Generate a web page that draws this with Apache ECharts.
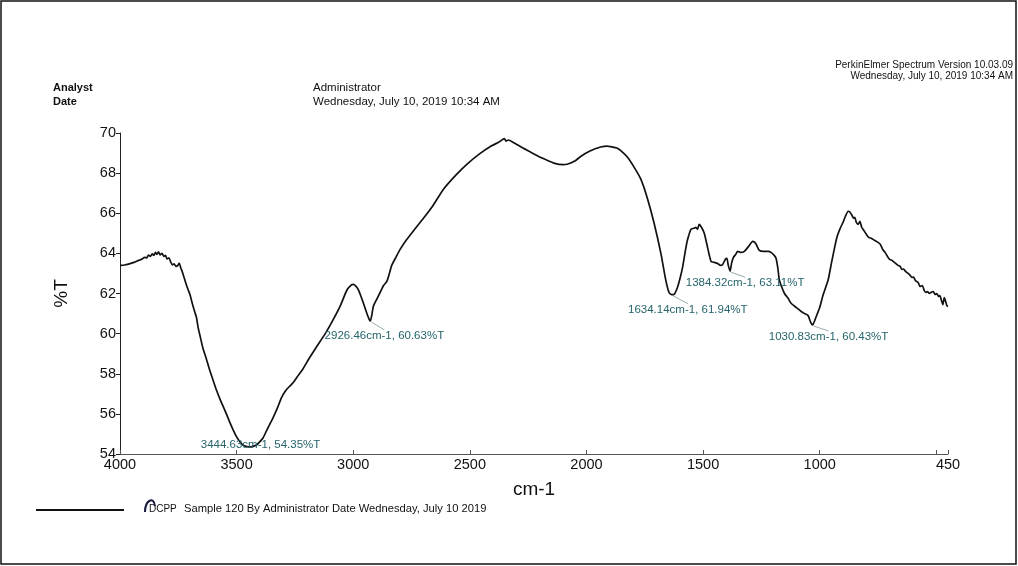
<!DOCTYPE html>
<html>
<head>
<meta charset="utf-8">
<title>DCPP IR spectrum</title>
<script src="https://cdn.jsdelivr.net/npm/echarts@6/dist/echarts.min.js"></script>
<style>
  html, body { margin: 0; padding: 0; background: #fff; }
  #chart { width: 1018px; height: 566px; }
</style>
</head>
<body>
<div id="chart"></div>
<script>
// Wavenumber (cm-1), high to low
const wavenumbers = [
  4000, 3980, 3960, 3940, 3920, 3905, 3895, 3885, 3878, 3870, 3862, 3855, 3848, 3842, 3835, 3828,
  3820, 3812, 3805, 3798, 3790, 3782, 3775, 3768, 3760, 3752, 3746, 3740, 3732, 3720, 3710, 3700,
  3690, 3680, 3672, 3665, 3655, 3645, 3630, 3616, 3600, 3587, 3570, 3555, 3544, 3530, 3515, 3500,
  3485, 3470, 3455, 3444.63, 3430, 3415, 3400, 3387, 3370, 3355, 3344, 3325, 3308, 3290, 3275, 3258,
  3240, 3215, 3190, 3157, 3120, 3086, 3055, 3028, 3010, 3000, 2990, 2979, 2965, 2950, 2940, 2931,
  2926.46, 2920, 2914, 2900, 2885, 2870, 2856, 2845, 2835, 2815, 2799, 2770, 2740, 2699, 2660, 2613,
  2560, 2512, 2460, 2412, 2375, 2352, 2345, 2335, 2312, 2280, 2240, 2190, 2140, 2100, 2083, 2050,
  2025, 1985, 1939, 1910, 1896, 1870, 1853, 1825, 1796, 1767, 1739, 1710, 1681, 1660, 1646, 1634.14,
  1625, 1610, 1598, 1588, 1575, 1567, 1552, 1540, 1531, 1524, 1517, 1507, 1495, 1481, 1466, 1452,
  1438, 1425, 1416, 1405, 1398, 1392, 1384.32, 1378, 1370, 1360, 1352, 1340, 1323, 1305, 1287, 1275,
  1259, 1240, 1220, 1209, 1195, 1187, 1180, 1173, 1162, 1151, 1135, 1122, 1100, 1079, 1065, 1050,
  1040, 1030.83, 1020, 1010, 1000, 985, 964, 950, 936, 925, 914, 900, 890, 878, 870, 862,
  855, 850, 843, 835, 828, 820, 814, 800, 790, 779, 765, 750, 740, 730, 720, 707,
  700, 690, 680, 672, 664, 655, 648, 640, 632, 621, 612, 605, 598, 590, 578, 570,
  560, 552, 545, 538, 530, 520, 513, 505, 498, 490, 485, 478, 472, 466, 460, 455,
  450
];

// Transmittance (%T) at each wavenumber above
const transmittance = [
  63.40, 63.42, 63.48, 63.55, 63.65, 63.72, 63.80, 63.78, 63.92, 63.85, 63.98, 63.90, 64.05, 63.95, 64.08, 63.92,
  64.00, 63.85, 63.90, 63.72, 63.78, 63.55, 63.42, 63.48, 63.35, 63.40, 63.52, 63.30, 63.05, 62.60, 62.25, 61.95,
  61.50, 61.10, 60.80, 60.30, 59.80, 59.30, 58.75, 58.20, 57.65, 57.20, 56.70, 56.30, 56.00, 55.60, 55.20, 54.85,
  54.60, 54.42, 54.37, 54.35, 54.38, 54.45, 54.62, 54.80, 55.20, 55.55, 55.80, 56.30, 56.80, 57.15, 57.35, 57.55,
  57.85, 58.25, 58.75, 59.35, 60.00, 60.70, 61.40, 62.15, 62.40, 62.45, 62.38, 62.20, 61.80, 61.30, 60.95, 60.70,
  60.63, 60.95, 61.35, 61.70, 62.05, 62.40, 62.60, 63.00, 63.40, 63.85, 64.20, 64.70, 65.15, 65.75, 66.35, 67.20,
  67.90, 68.45, 68.95, 69.33, 69.55, 69.72, 69.60, 69.65, 69.52, 69.30, 69.05, 68.75, 68.50, 68.42, 68.44, 68.60,
  68.83, 69.10, 69.30, 69.35, 69.32, 69.25, 69.12, 68.80, 68.30, 67.70, 66.75, 65.50, 64.00, 62.67, 62.05, 61.94,
  61.95, 62.30, 62.80, 63.30, 64.20, 64.67, 65.20, 65.25, 65.30, 65.20, 65.45, 65.30, 65.00, 64.30, 63.60, 63.55,
  63.50, 63.40, 63.45, 63.70, 63.75, 63.40, 63.11, 63.50, 63.80, 63.95, 64.10, 64.05, 64.10, 64.35, 64.60, 64.50,
  64.15, 64.10, 64.10, 64.05, 63.90, 63.75, 63.30, 62.67, 62.30, 62.00, 61.75, 61.50, 61.30, 61.10, 61.00, 60.90,
  60.60, 60.43, 60.70, 61.00, 61.30, 61.95, 62.67, 63.50, 64.30, 64.85, 65.20, 65.55, 65.85, 66.10, 66.05, 65.90,
  65.75, 65.80, 65.55, 65.45, 65.60, 65.30, 65.20, 64.95, 64.80, 64.75, 64.65, 64.55, 64.45, 64.20, 64.05, 63.80,
  63.70, 63.65, 63.55, 63.48, 63.40, 63.35, 63.20, 63.22, 63.10, 63.00, 62.90, 62.80, 62.82, 62.65, 62.55, 62.35,
  62.40, 62.15, 62.05, 62.10, 62.00, 62.08, 62.10, 61.95, 62.00, 61.85, 61.90, 61.65, 61.45, 61.80, 61.60, 61.40,
  61.35
];

// Picked peaks
const peakWavenumbers = [3444.63, 2926.46, 1634.14, 1384.32, 1030.83];
const peakTransmittance = [54.35, 60.63, 61.94, 63.11, 60.43];

// Axis ticks and labels
const xTickValues = [4000, 3500, 3000, 2500, 2000, 1500, 1000, 500, 450];
const xLabelValues = [4000, 3500, 3000, 2500, 2000, 1500, 1000, 450];
const yMin = 54, yMax = 70, yStep = 2;

const FONT = '"Liberation Sans", Arial, sans-serif';

const spectrum = wavenumbers.map((w, i) => [w, transmittance[i]]);
const peaks = peakWavenumbers.map((w, i) => [w, peakTransmittance[i]]);
const peakText = peakWavenumbers.map((w, i) =>
  w.toFixed(2) + 'cm-1, ' + peakTransmittance[i].toFixed(2) + '%T');

// Leader end and label anchor (top-centre) offsets in px from each peak
const leaderEnd = [null, [14, 9], [16, 9], [15, 6], [16, 6]];
const labelAnchor = [[11, -8], [14, 9], [16, 9], [15, 6], [16, 6]];

const chart = echarts.init(document.getElementById('chart'), null, { renderer: 'canvas' });

chart.setOption({
  backgroundColor: '#ffffff',
  animation: false,
  grid: { left: 120, right: 70, top: 133, bottom: 112, containLabel: false },
  xAxis: {
    type: 'value',
    inverse: true,
    min: 450,
    max: 4000,
    name: 'cm-1',
    nameLocation: 'middle',
    nameGap: 26,
    nameTextStyle: { fontFamily: FONT, fontSize: 19, color: '#111' },
    axisLine: { show: true, onZero: false, lineStyle: { color: '#555', width: 1 } },
    axisTick: { show: true, inside: true, length: 4, customValues: xTickValues, lineStyle: { color: '#555' } },
    axisLabel: {
      customValues: xLabelValues,
      formatter: function (v) { return String(v); },
      fontFamily: FONT, fontSize: 14.5, color: '#111', margin: 3
    },
    splitLine: { show: false }
  },
  yAxis: {
    type: 'value',
    min: yMin,
    max: yMax,
    interval: yStep,
    name: '%T',
    nameLocation: 'middle',
    nameGap: 49,
    nameRotate: 90,
    nameTextStyle: { fontFamily: FONT, fontSize: 19, color: '#111' },
    axisLine: { show: true, lineStyle: { color: '#222', width: 1 } },
    axisTick: { show: true, inside: false, length: 4, lineStyle: { color: '#222' } },
    axisLabel: { fontFamily: FONT, fontSize: 14.5, color: '#111', margin: 4 },
    splitLine: { show: false }
  },
  series: [
    {
      type: 'line',
      data: spectrum,
      showSymbol: false,
      smooth: 0.2,
      lineStyle: { color: '#111', width: 1.7 },
      z: 2
    },
    {
      type: 'custom',
      data: peaks,
      encode: { x: 0, y: 1 },
      clip: false,
      z: 3,
      renderItem: function (params, api) {
        const i = params.dataIndex;
        const p = api.coord([api.value(0), api.value(1)]);
        const children = [];
        const le = leaderEnd[i];
        if (le) {
          children.push({
            type: 'line',
            shape: { x1: p[0] + 1, y1: p[1] + 1, x2: p[0] + le[0], y2: p[1] + le[1] },
            style: { stroke: '#8fa3a3', lineWidth: 0.9 }
          });
        }
        const la = labelAnchor[i];
        children.push({
          type: 'text',
          x: p[0] + la[0],
          y: p[1] + la[1],
          style: {
            text: peakText[i],
            textAlign: 'center',
            textVerticalAlign: 'top',
            fill: '#24646a',
            font: '11.5px ' + FONT
          }
        });
        return { type: 'group', children: children };
      }
    }
  ],
  graphic: [
    // page frame
    { type: 'rect', shape: { x: 1, y: 1, width: 1015, height: 563 },
      style: { fill: 'none', stroke: '#111', lineWidth: 1.5 }, silent: true, z: 10 },
    // header block
    { type: 'text', left: 53, top: 82, style: { text: 'Analyst', font: 'bold 11px ' + FONT, fill: '#111' } },
    { type: 'text', left: 53, top: 96, style: { text: 'Date', font: 'bold 11px ' + FONT, fill: '#111' } },
    { type: 'text', left: 313, top: 82, style: { text: 'Administrator', font: '11.5px ' + FONT, fill: '#111' } },
    { type: 'text', left: 313, top: 96, style: { text: 'Wednesday, July 10, 2019 10:34 AM', font: '11.5px ' + FONT, fill: '#111' } },
    { type: 'text', right: 5, top: 60, style: { text: 'PerkinElmer Spectrum Version 10.03.09', font: '10px ' + FONT, fill: '#111' } },
    { type: 'text', right: 5, top: 71, style: { text: 'Wednesday, July 10, 2019 10:34 AM', font: '10px ' + FONT, fill: '#111' } },
    // footer legend
    { type: 'line', shape: { x1: 36, y1: 510, x2: 124, y2: 510 }, style: { stroke: '#111', lineWidth: 2 } },
    { type: 'text', left: 149, top: 504, style: { text: 'DCPP', font: '10px ' + FONT, fill: '#111' } },
    { type: 'text', left: 184, top: 503, style: { text: 'Sample 120 By Administrator Date Wednesday, July 10 2019', font: '11.2px ' + FONT, fill: '#111' } },
    // pen mark over the sample name
    { type: 'bezierCurve', shape: { x1: 145, y1: 512, x2: 155, y2: 506, cpx1: 145, cpy1: 500, cpx2: 154, cpy2: 496 },
      style: { stroke: '#1a1a40', lineWidth: 2, fill: 'none' } }
  ]
});
</script>
</body>
</html>
